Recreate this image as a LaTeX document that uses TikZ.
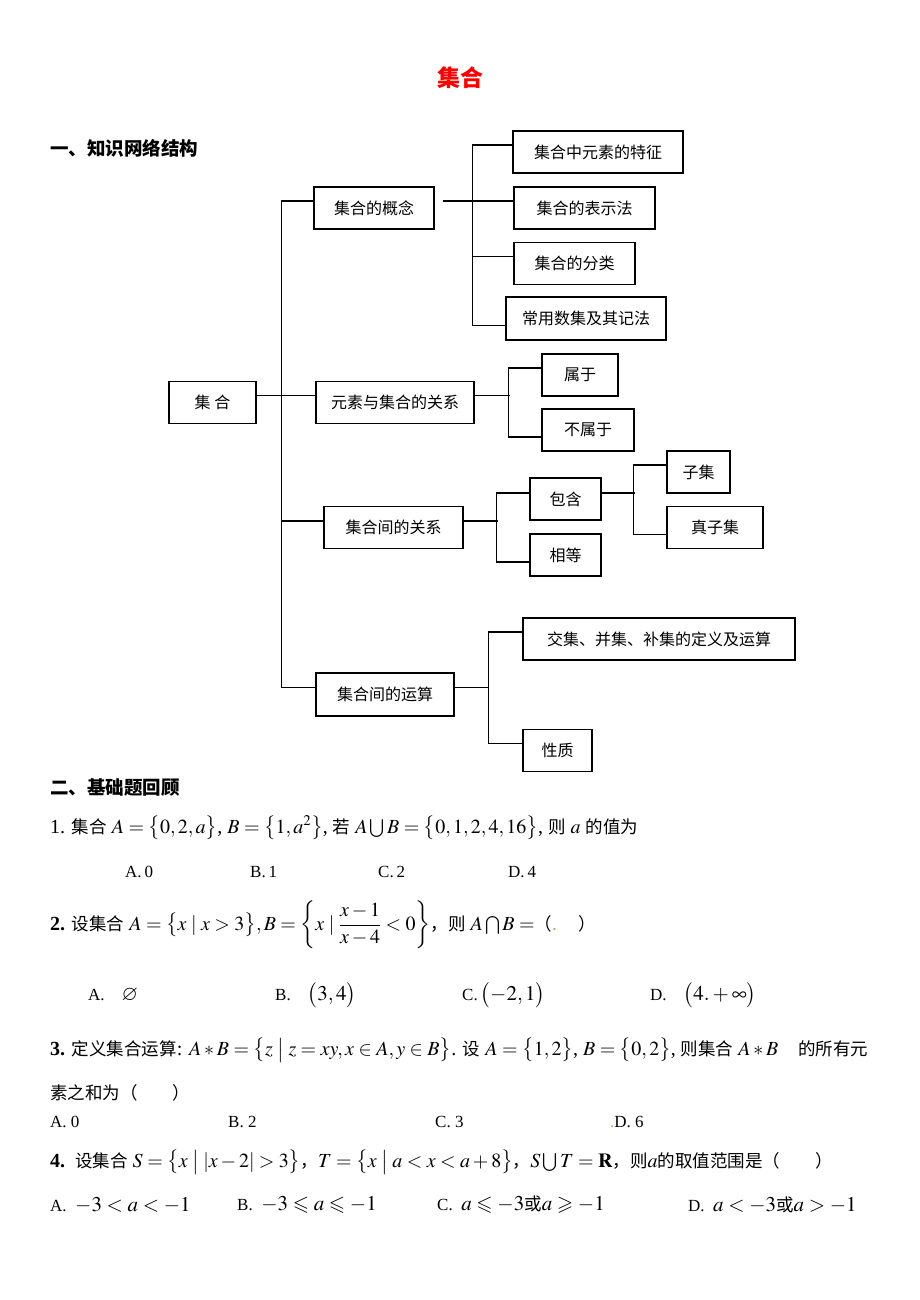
\documentclass[tikz,border=0pt]{standalone}
\usepackage{amsmath}
\usepackage{mathptmx}
\usepackage{amssymb}
\usepackage{fontspec}
\setmainfont{Liberation Serif}
\newfontfamily\cjk{Noto Sans CJK SC}
\usetikzlibrary{positioning}
\definecolor{dotgold}{RGB}{205,165,70}

\tikzset{
  box/.style={draw, line width=1.1pt, minimum height=42pt, inner sep=0pt, font=\cjk\fontsize{16}{19}\selectfont},
  link/.style={line width=1.1pt},
  heading/.style={anchor=west, inner sep=0pt, font=\cjk\bfseries\fontsize{18.5}{22}\selectfont},
  qline/.style={anchor=west, inner sep=0pt, font=\fontsize{20}{24}\selectfont},
  choice/.style={anchor=west, inner sep=0pt, font=\fontsize{17}{20}\selectfont},
}
\newcommand{\zh}[1]{{\cjk\fontsize{17.5}{21}\selectfont #1}}
\newcommand{\mth}[1]{{\fontsize{21}{24}\selectfont$#1$}}

\begin{document}
\begin{tikzpicture}[x=1pt,y=-1pt]
\useasboundingbox (0,0) rectangle (920,1300);

% title and heading
\node[inner sep=0pt, text=red, font=\cjk\bfseries\fontsize{23}{27}\selectfont] (title) at (460,78) {集合};
\node[heading] (part1) at (50,148) {一、知识网络结构};

% boxes
\node[box, minimum width=87pt] (jihe) at (212.5,402.5) {集\ 合};
\node[box, minimum width=120pt] (gainian) at (374,208) {集合的概念};
\node[box, minimum width=170pt] (tezheng) at (598,152) {集合中元素的特征};
\node[box, minimum width=141pt] (biaoshi) at (584.5,208) {集合的表示法};
\node[box, minimum width=121pt] (fenlei) at (574.5,263.5) {集合的分类};
\node[box, minimum width=160pt, minimum height=43pt] (shuji) at (586,318.5) {常用数集及其记法};
\node[box, minimum width=158pt] (guanxi) at (395,402.5) {元素与集合的关系};
\node[box, minimum width=76pt] (shuyu) at (580,375) {属于};
\node[box, minimum width=92pt] (bushuyu) at (588,430) {不属于};
\node[box, minimum width=139pt] (jianguanxi) at (393.5,527.5) {集合间的关系};
\node[box, minimum width=71pt] (baohan) at (565.5,499) {包含};
\node[box, minimum width=71pt] (xiangdeng) at (565.5,555) {相等};
\node[box, minimum width=63pt] (ziji) at (698.5,472) {子集};
\node[box, minimum width=96pt] (zhenziji) at (715,527.5) {真子集};
\node[box, minimum width=138pt, minimum height=43pt] (yunsuan) at (385,694.5) {集合间的运算};
\node[box, minimum width=272pt] (jiaoji) at (659,639) {交集、并集、补集的定义及运算};
\node[box, minimum width=69pt] (xingzhi) at (557.5,750.5) {性质};

% trunk
\draw[link] ([yshift=7pt]jihe.east) -- ([yshift=7pt]guanxi.west);
\draw[link] ([yshift=7pt]gainian.west) -- ++(-32,0) |- ([yshift=7pt]yunsuan.west);
\draw[link] ([yshift=6.5pt]jianguanxi.west) -- ++(-42,0);

% concept branch
\draw[link] ([xshift=8pt,yshift=7pt]gainian.east) -- ([yshift=7pt]biaoshi.west);
\draw[link] ([yshift=7pt]tezheng.west) -- ++(-40,0) |- ([yshift=-7pt]shuji.west);
\draw[link] ([yshift=7pt]fenlei.west) -- ++(-40,0);

% element branch
\draw[link] ([yshift=7pt]guanxi.east) -- ++(35,0);
\draw[link] ([yshift=7pt]shuyu.west) -- ++(-33,0) |- ([yshift=-7pt]bushuyu.west);

% relation branch
\draw[link] ([yshift=6.5pt]jianguanxi.east) -- ++(34,0);
\draw[link] ([yshift=6pt]baohan.west) -- ++(-33,0) |- ([yshift=-7pt]xiangdeng.west);
\draw[link] ([yshift=6pt]baohan.east) -- ++(33,0);
\draw[link] ([yshift=7pt]ziji.west) -- ++(-33,0) |- ([yshift=-7pt]zhenziji.west);

% operation branch
\draw[link] ([yshift=7pt]yunsuan.east) -- ++(34,0);
\draw[link] ([yshift=7pt]jiaoji.west) -- ++(-34,0) |- ([yshift=7pt]xingzhi.west);

% exercises
\node[heading] (part2) at (50,788) {二、基础题回顾};

\node[qline] (q1) at (50,828) {1. \zh{集合} $A=\bigl\{0,2,a\bigr\}$, $B=\bigl\{1,a^{2}\bigr\}$, \zh{若} $A\bigcup B=\bigl\{0,1,2,4,16\bigr\}$, \zh{则} $a$ \zh{的值为}};
\node[choice] (q1a) at (125,872) {A.\,0};
\node[choice] (q1b) at (250,872) {B.\,1};
\node[choice] (q1c) at (378,872) {C.\,2};
\node[choice] (q1d) at (508,872) {D.\,4};

\node[qline] (q2) at (50,925) {\textbf{2.} \zh{设集合} $A=\bigl\{x\mid x>3\bigr\},B=\left\{x\mid\dfrac{x-1}{x-4}<0\right\}$\zh{，则} $A\bigcap B=$\zh{（\textcolor{dotgold}{.}\quad\ ）}};
\node[choice] (q2a) at (88,995) {A.\quad\mth{\varnothing}};
\node[choice] (q2b) at (275,995) {B.\quad\mth{\bigl(3,4\bigr)}};
\node[choice] (q2c) at (462,995) {C.\,\mth{\bigl(-2,1\bigr)}};
\node[choice] (q2d) at (650,995) {D.\quad\mth{\bigl(4.+\infty\bigr)}};

\node[qline] (q3) at (50,1050) {\textbf{3.} \zh{定义集合运算}: $A*B=\bigl\{z\bigm|z=xy,x\in A,y\in B\bigr\}$. \zh{设} $A=\bigl\{1,2\bigr\}$, $B=\bigl\{0,2\bigr\}$, \zh{则集合} $A*B$\quad\zh{的所有元}};
\node[qline] (q3b) at (50,1093) {\zh{素之和为（\qquad）}};
\node[choice] (q3ca) at (50,1122) {A.\ 0};
\node[choice] (q3cb) at (228,1122) {B.\ 2};
\node[choice] (q3cc) at (435,1122) {C.\ 3};
\node[choice] (q3cd) at (610,1122) {\textcolor{dotgold}{.}D.\ 6};

\node[qline] (q4) at (50,1162) {\textbf{4.}\ \ \zh{设集合} $S=\bigl\{x\bigm|\lvert x-2\rvert>3\bigr\}$\zh{，}$T=\bigl\{x\bigm|a<x<a+8\bigr\}$\zh{，}$S\bigcup T=\mathbf{R}$\zh{，则}$a$\zh{的取值范围是（\qquad）}};
\node[choice] (q4a) at (50,1205) {A.\ \ \mth{-3<a<-1}};
\node[choice] (q4b) at (237,1205) {B.\ \ \mth{-3\leqslant a\leqslant -1}};
\node[choice] (q4c) at (437,1205) {C.\ \ \mth{a\leqslant -3}\zh{或}\mth{a\geqslant -1}};
\node[choice] (q4d) at (688,1205) {D.\ \ \mth{a<-3}\zh{或}\mth{a>-1}};

\end{tikzpicture}
\end{document}
